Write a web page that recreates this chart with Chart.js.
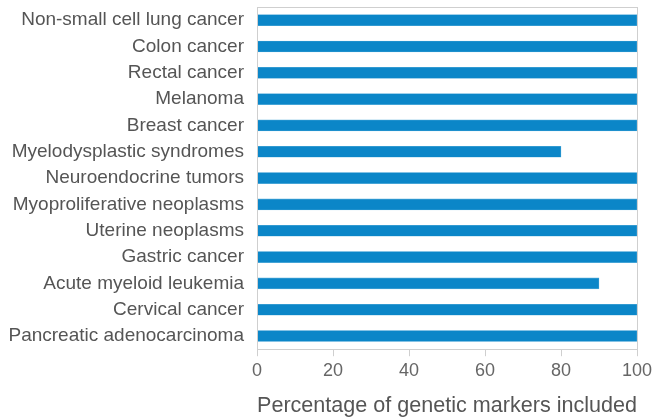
<!DOCTYPE html>
<html>
<head>
<meta charset="utf-8">
<script src="https://cdn.jsdelivr.net/npm/chart.js@4.4.0/dist/chart.umd.min.js"></script>
<style>
  html, body { margin: 0; padding: 0; background: #fff; }
  #wrap { width: 654px; height: 418px; }
</style>
</head>
<body>
<div id="wrap"><canvas id="barChart" width="654" height="418"></canvas></div>
<script>
// Cancer types, top to bottom
var cancers = [
    "Non-small cell lung cancer",
    "Colon cancer",
    "Rectal cancer",
    "Melanoma",
    "Breast cancer",
    "Myelodysplastic syndromes",
    "Neuroendocrine tumors",
    "Myoproliferative neoplasms",
    "Uterine neoplasms",
    "Gastric cancer",
    "Acute myeloid leukemia",
    "Cervical cancer",
    "Pancreatic adenocarcinoma"
];
var percentIncluded = [100, 100, 100, 100, 100, 80, 100, 100, 100, 100, 90, 100, 100];
var xTicks = [0, 20, 40, 60, 80, 100];

// Light grey box around the plot area
var frame = {
    id: "frame",
    afterDraw: function (chart) {
        var a = chart.chartArea;
        var ctx = chart.ctx;
        ctx.save();
        ctx.strokeStyle = "#cfcfcf";
        ctx.lineWidth = 1;
        ctx.strokeRect(Math.round(a.left) + 0.5, Math.round(a.top) + 0.5,
            Math.round(a.right - a.left), Math.round(a.bottom - a.top));
        ctx.restore();
    }
};

var ctxBar = document.getElementById("barChart").getContext("2d");
var barChart = new Chart(ctxBar, {
    type: "bar",
    data: {
        labels: cancers,
        datasets: [
            {
                data: percentIncluded,
                backgroundColor: "#0b86c8",
                borderColor: "#5aaedb",
                borderWidth: 0.6,
                barThickness: 11
            }
        ]
    },
    options: {
        indexAxis: "y",
        responsive: false,
        animation: false,
        layout: { padding: { top: 7, right: 17, left: 8, bottom: 0 } },
        plugins: { legend: { display: false }, tooltip: { enabled: false } },
        scales: {
            x: {
                min: 0,
                max: 100,
                afterBuildTicks: function (axis) {
                    axis.ticks = xTicks.map(function (v) { return { value: v }; });
                },
                afterFit: function (axis) {
                    axis.paddingRight = 0;
                    axis.paddingLeft = 0;
                },
                grid: { drawOnChartArea: false, tickLength: 7, color: "#cfcfcf" },
                border: { color: "#cfcfcf" },
                ticks: {
                    color: "#666",
                    padding: 4,
                    font: { family: "Liberation Sans, Arial", size: 18 }
                },
                title: {
                    display: true,
                    text: "Percentage of genetic markers included",
                    color: "#555",
                    padding: { top: 8, bottom: 0 },
                    font: { family: "Liberation Sans, Arial", size: 22, lineHeight: 1.1 }
                }
            },
            y: {
                afterFit: function (axis) {
                    axis.paddingTop = 0;
                    axis.paddingBottom = 0;
                    axis.width = 249;
                },
                grid: { display: false, drawTicks: false },
                border: { color: "#cfcfcf" },
                ticks: {
                    autoSkip: false,
                    color: "#555",
                    padding: 13,
                    font: { family: "Liberation Sans, Arial", size: 19 }
                }
            }
        }
    },
    plugins: [frame]
});
</script>
</body>
</html>
